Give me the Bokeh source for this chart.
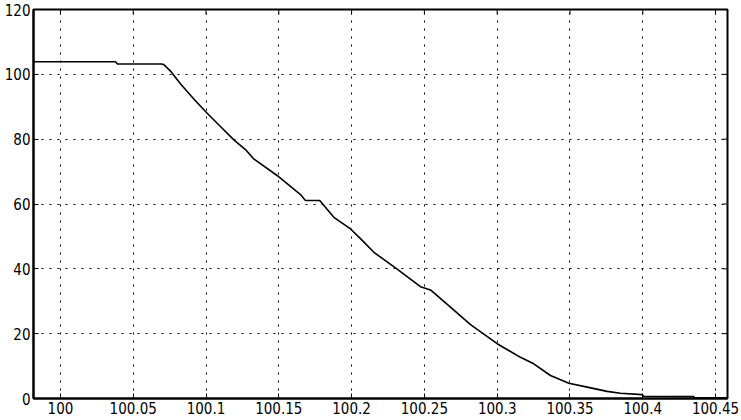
import math
from bokeh.plotting import figure
from bokeh.models import LinearAxis, FixedTicker, Range1d
from bokeh.embed import file_html
from bokeh.resources import INLINE

# data
xs = [99.9815, 100.0378, 100.0392, 100.0694, 100.0710, 100.0756, 100.0824, 100.0916,
      100.1008, 100.1099, 100.1191, 100.1271, 100.1328, 100.1488, 100.1649, 100.1683,
      100.1781, 100.1878, 100.1993, 100.2061, 100.2153, 100.2313, 100.2473, 100.2542,
      100.2679, 100.2817, 100.3000, 100.3160, 100.3251, 100.3366, 100.3492, 100.3618,
      100.3755, 100.3847, 100.3996, 100.4007, 100.4349, 100.4355, 100.4582]
ys = [103.9, 103.9, 103.2, 103.2, 103.0, 101.0, 97.1, 92.4,
      88.0, 83.9, 79.8, 76.8, 73.9, 68.8, 62.9, 61.1,
      61.1, 55.9, 52.3, 49.3, 45.1, 39.9, 34.5, 33.5,
      28.2, 22.8, 16.9, 12.7, 10.7, 7.1, 4.7, 3.5,
      2.2, 1.6, 1.2, 0.7, 0.6, 0.2, 0.2]
x_ticks = [100, 100.05, 100.1, 100.15, 100.2, 100.25, 100.3, 100.35, 100.4, 100.45]
x_labels = ["100", "100.05", "100.1", "100.15", "100.2", "100.25", "100.3", "100.35", "100.4", "100.45"]
y_ticks = [0, 20, 40, 60, 80, 100, 120]
x_min, x_max = 99.9815, 100.4582
y_min, y_max = 0, 120

FONT = "Liberation Sans Narrow, DejaVu Sans Condensed, sans-serif"

p = figure(width=741, height=420, output_backend="svg", toolbar_location=None,
           x_range=Range1d(x_min, x_max), y_range=Range1d(y_min, y_max),
           min_border_left=33, min_border_right=14, min_border_top=9, min_border_bottom=22,
           x_axis_location=None, y_axis_location=None)
p.background_fill_color = "white"
p.border_fill_color = "white"
p.outline_line_color = "black"
p.outline_line_width = 2

xa = LinearAxis(ticker=FixedTicker(ticks=x_ticks),
                major_label_overrides={t: l for t, l in zip(x_ticks, x_labels)})
ya = LinearAxis(ticker=FixedTicker(ticks=y_ticks))
for ax in (xa, ya):
    ax.axis_line_color = "black"
    ax.axis_line_width = 2
    ax.major_tick_in = 5
    ax.major_tick_out = 0
    ax.major_tick_line_color = "black"
    ax.minor_tick_line_color = None
    ax.major_label_text_font = FONT
    ax.major_label_text_color = "black"
    ax.major_label_text_font_size = "15px"
    ax.major_label_standoff = 3
p.add_layout(xa, "below")
p.add_layout(ya, "left")

p.xgrid.ticker = FixedTicker(ticks=x_ticks)
p.ygrid.ticker = FixedTicker(ticks=y_ticks)
for g in (p.xgrid, p.ygrid):
    g.grid_line_color = "black"
    g.grid_line_dash = "2 6"
    g.grid_line_width = 1

# inward ticks on the top and right edges of the box
p.scatter(x_ticks, [y_max] * len(x_ticks), marker="dash", size=10, angle=math.pi / 2,
          line_color="black", line_width=1)
p.scatter([x_max] * len(y_ticks), y_ticks, marker="dash", size=10,
          line_color="black", line_width=1)

p.line(xs, ys, line_color="black", line_width=1.6)

open("out.html", "w").write(file_html(p, INLINE))
